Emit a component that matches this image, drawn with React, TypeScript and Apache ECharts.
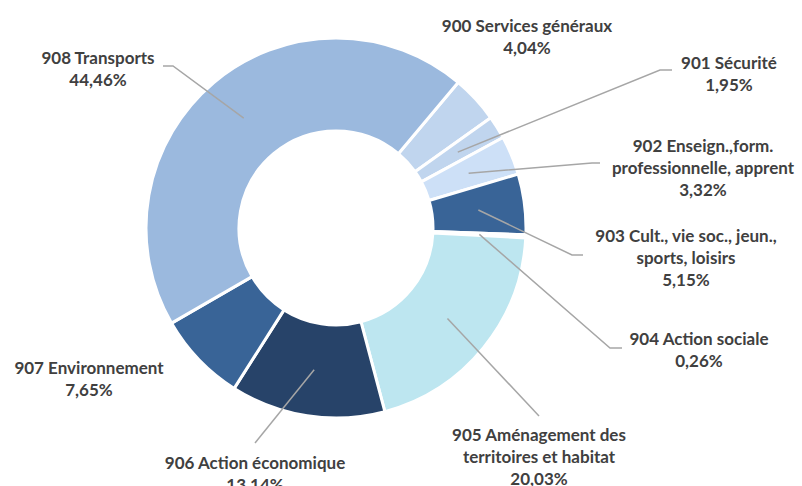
import React, { useEffect, useRef } from "react";
import * as echarts from "echarts";

const categories = [
  "900 Services généraux",
  "901 Sécurité",
  "902 Enseign.,form.\nprofessionnelle, apprent",
  "903 Cult., vie soc., jeun.,\nsports, loisirs",
  "904 Action sociale",
  "905 Aménagement des\nterritoires et habitat",
  "906 Action économique",
  "907 Environnement",
  "908 Transports",
];
const values = [4.04, 1.95, 3.32, 5.15, 0.26, 20.03, 13.14, 7.65, 44.46];
const colors = [
  "#c0d5ee",
  "#c0d5ee",
  "#cde0f7",
  "#396497",
  "#9bb9de",
  "#bde6f0",
  "#274369",
  "#396497",
  "#9bb9de",
];

// label layout (positions of text blocks, leader-line bends/ends)
const labelPos: number[][] = [
  [527, 36], [729, 73], [703, 167], [686, 257], [699, 349],
  [539, 456], [255, 473], [89, 378], [98, 68],
];
const linePts: (number[][] | null)[] = [
  null,
  [[660, 70], [672, 70]],
  [[592, 163], [600, 163]],
  [[572, 255], [583, 255]],
  [[610, 348], [622, 348]],
  [[539, 416], [539, 416]],
  [[255, 443], [255, 443]],
  null,
  [[173, 66], [163, 66]],
];

const CX = 336;
const CY = 228;
const R_IN = 97;
const R_OUT = 190;
const START = 50; // echarts startAngle (40° clockwise from 12 o'clock)

export default function App() {
  const ref = useRef<HTMLDivElement>(null);
  useEffect(() => {
    if (!ref.current) return;
    const chart = echarts.init(ref.current, undefined, { renderer: "svg" });
    const total = values.reduce((a, b) => a + b, 0);
    const anchor = (i: number) => {
      let cum = 0;
      for (let k = 0; k < i; k++) cum += values[k];
      const frac = (cum + values[i] / 2) / total;
      const ang = ((90 - START) + frac * 360) * Math.PI / 180;
      const rm = (R_IN + R_OUT) / 2;
      return [CX + Math.sin(ang) * rm, CY - Math.cos(ang) * rm];
    };
    const data = categories.map((name, i) => ({
      name,
      value: values[i],
      itemStyle: { color: colors[i] },
    }));
    const lineIdx = linePts
      .map((p, i) => (p ? i : -1))
      .filter((i) => i >= 0)
      .map((i) => [i]);
    chart.setOption({
      animation: false,
      backgroundColor: "#ffffff",
      series: [
        {
          type: "pie",
          z: 2,
          center: [CX, CY],
          radius: [R_IN, R_OUT],
          startAngle: START,
          clockwise: true,
          avoidLabelOverlap: false,
          data,
          itemStyle: { borderColor: "#ffffff", borderWidth: 3 },
          emphasis: { disabled: true },
          label: {
            show: true,
            position: "outside",
            formatter: (p: any) =>
              `${p.name}\n${Number(p.value).toFixed(2).replace(".", ",")}%`,
            fontFamily: "Lato",
            fontWeight: "bold",
            fontSize: 17,
            lineHeight: 22,
            color: "#404040",
            align: "center",
          },
          labelLine: { show: false },
          labelLayout: (params: any) => {
            const i = params.dataIndex;
            return {
              x: labelPos[i][0],
              y: labelPos[i][1],
              align: "center",
              verticalAlign: "middle",
            };
          },
        },
        {
          type: "custom",
          coordinateSystem: "none",
          z: 5,
          silent: true,
          data: lineIdx,
          renderItem: (params: any, api: any) => {
            const i = api.value(0);
            const lp = linePts[i] as number[][];
            return {
              type: "polyline",
              shape: { points: [anchor(i), lp[0], lp[1]] },
              style: { stroke: "#a6a6a6", lineWidth: 1.5, fill: null },
            };
          },
        },
      ],
    });
    return () => chart.dispose();
  }, []);
  return (
    <div
      ref={ref}
      style={{ position: "fixed", left: 0, top: 0, width: 802, height: 486 }}
    />
  );
}
